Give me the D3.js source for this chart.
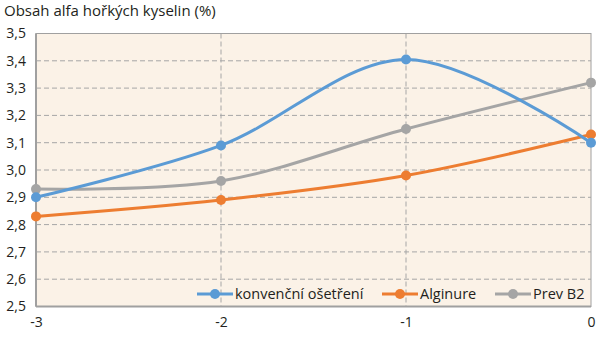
<!DOCTYPE html>
<html><head><meta charset="utf-8">
<script src="https://cdn.jsdelivr.net/npm/d3@7"></script>
<style>body{margin:0;background:#fff}svg{display:block}</style>
</head><body>
<script>
const xValues = [-3, -2, -1, 0];
const konvencni = [2.90, 3.09, 3.405, 3.10];
const alginure = [2.83, 2.89, 2.98, 3.13];
const prevB2 = [2.93, 2.96, 3.15, 3.32];
const seriesNames = ["konvenční ošetření", "Alginure", "Prev B2"];
const seriesColors = ["#5B9BD5", "#ED7D31", "#A5A5A5"];
const yTicks = [2.5, 2.6, 2.7, 2.8, 2.9, 3.0, 3.1, 3.2, 3.3, 3.4, 3.5];
const xTickLabels = ["-3", "-2", "-1", "0"];
const title = "Obsah alfa hořkých kyselin (%)";

const W = 600, H = 339;
const m = {left: 36, right: 9, top: 33.5, bottom: 32.5};
const font = "'Open Sans', 'Noto Sans', sans-serif";
const svg = d3.select("body").append("svg").attr("width", W).attr("height", H);

const x = d3.scaleLinear().domain([-3, 0]).range([m.left, W - m.right]);
const y = d3.scaleLinear().domain([2.5, 3.5]).range([H - m.bottom, m.top]);

svg.append("rect").attr("x", x(-3)).attr("y", y(3.5))
  .attr("width", x(0) - x(-3)).attr("height", y(2.5) - y(3.5))
  .attr("fill", "#FBF2E7");

// horizontal grid
svg.append("g").selectAll("line").data(yTicks.slice(1, -1)).join("line")
  .attr("x1", x(-3)).attr("x2", x(0))
  .attr("y1", d => y(d)).attr("y2", d => y(d))
  .attr("stroke", "#A6A6A6").attr("stroke-width", 1).attr("stroke-dasharray", "5,3");
// vertical grid
svg.append("g").selectAll("line").data(xValues.slice(1, -1)).join("line")
  .attr("y1", y(3.5)).attr("y2", y(2.5))
  .attr("x1", d => x(d)).attr("x2", d => x(d))
  .attr("stroke", "#A6A6A6").attr("stroke-width", 1).attr("stroke-dasharray", "5,3");

// border
svg.append("rect").attr("x", x(-3)).attr("y", y(3.5))
  .attr("width", x(0) - x(-3)).attr("height", y(2.5) - y(3.5))
  .attr("fill", "none").attr("stroke", "#A0A0A0").attr("stroke-width", 1);
svg.append("line").attr("x1", x(-3)).attr("x2", x(-3)).attr("y1", y(3.5)).attr("y2", y(2.5))
  .attr("stroke", "#A0A0A0").attr("stroke-width", 2);
svg.append("line").attr("x1", x(-3)).attr("x2", x(0)).attr("y1", y(2.5)).attr("y2", y(2.5))
  .attr("stroke", "#A0A0A0").attr("stroke-width", 2);

// axes
const yAxis = d3.axisLeft(y).tickValues(yTicks).tickSize(0).tickPadding(10)
  .tickFormat(d => d3.format(".1f")(d).replace(".", ","));
const gy = svg.append("g").attr("transform", `translate(${x(-3)},0)`).call(yAxis);
gy.select(".domain").remove();
gy.selectAll("text").attr("font-family", font).attr("font-size", 14).attr("fill", "#231F20");

const xAxis = d3.axisBottom(x).tickValues(xValues).tickSize(0).tickPadding(11)
  .tickFormat((d, i) => xTickLabels[i]);
const gx = svg.append("g").attr("transform", `translate(0,${y(2.5)})`).call(xAxis);
gx.select(".domain").remove();
gx.selectAll("text").attr("font-family", font).attr("font-size", 14).attr("fill", "#231F20");

// series
const series = [konvencni, alginure, prevB2];
const line = d3.line().x((d, i) => x(xValues[i])).y(d => y(d)).curve(d3.curveCardinal.tension(0));
const drawOrder = [2, 1, 0];
drawOrder.forEach(si => {
  const vals = series[si];
  svg.append("path").datum(vals).attr("d", line)
    .attr("fill", "none").attr("stroke", seriesColors[si]).attr("stroke-width", 3);
  svg.append("g").selectAll("circle").data(vals).join("circle")
    .attr("cx", (d, i) => x(xValues[i])).attr("cy", d => y(d)).attr("r", 5)
    .attr("fill", seriesColors[si]);
});

// legend
const legendX = [197, 382, 495];
const ly = 294;
seriesNames.forEach((n, i) => {
  const g = svg.append("g").attr("transform", `translate(${legendX[i]},${ly})`);
  g.append("line").attr("x1", 0).attr("x2", 36).attr("y1", 0).attr("y2", 0)
    .attr("stroke", seriesColors[i]).attr("stroke-width", 3);
  g.append("circle").attr("cx", 18).attr("cy", 0).attr("r", 5).attr("fill", seriesColors[i]);
  g.append("text").attr("x", 38).attr("y", 0).attr("dy", "0.35em").text(n)
    .attr("font-family", font).attr("font-size", 14.5).attr("fill", "#231F20");
});

svg.append("text").attr("x", 4).attr("y", 16).text(title)
  .attr("font-family", font).attr("font-size", 15).attr("fill", "#231F20");
</script>
</body></html>
